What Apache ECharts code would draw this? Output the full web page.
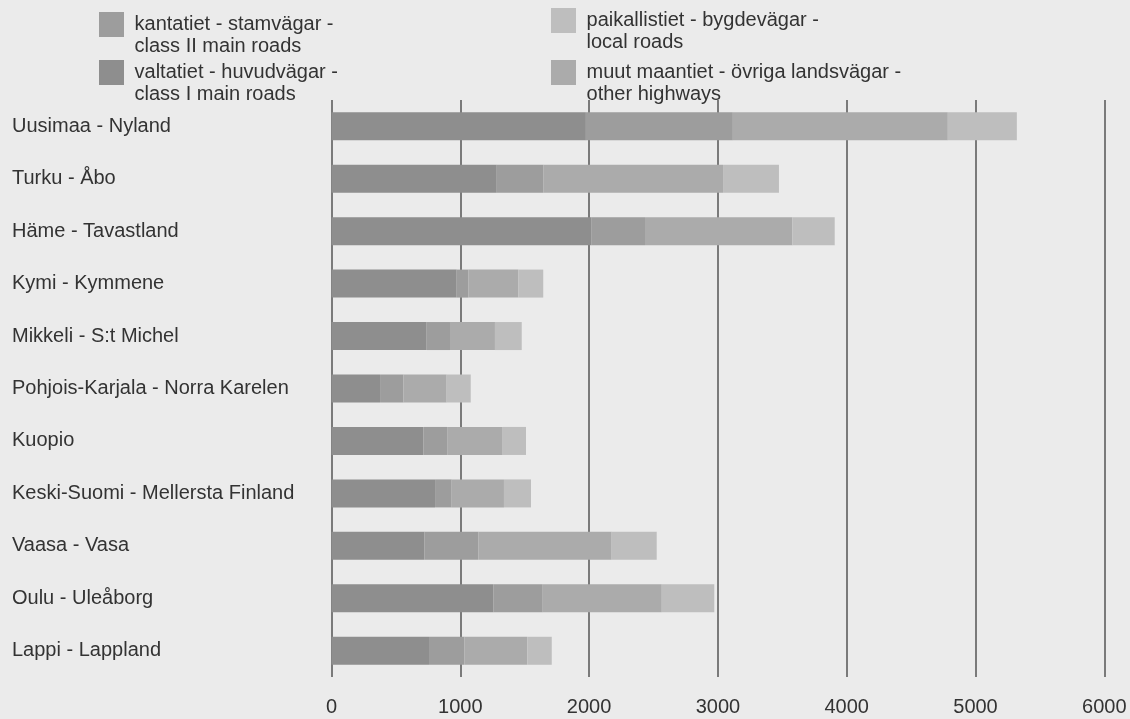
<!DOCTYPE html>
<html>
<head>
<meta charset="utf-8">
<script src="https://cdn.jsdelivr.net/npm/echarts@6/dist/echarts.min.js"></script>
<style>
html,body{margin:0;padding:0;background:#ebebeb;}
#main{width:1130px;height:719px;}
</style>
</head>
<body>
<div id="main"></div>
<script>
const categories = ['Uusimaa - Nyland','Turku - Åbo','Häme - Tavastland','Kymi - Kymmene','Mikkeli - S:t Michel','Pohjois-Karjala - Norra Karelen','Kuopio','Keski-Suomi - Mellersta Finland','Vaasa - Vasa','Oulu - Uleåborg','Lappi - Lappland'];
const valtatiet = [1975, 1283, 2020, 972, 739, 377, 713, 804, 721, 1256, 757];
const kantatiet = [1141, 361, 414, 90, 181, 181, 189, 129, 419, 384, 274];
const muutMaantiet = [1669, 1396, 1144, 388, 349, 336, 427, 406, 1035, 924, 489];
const paikallistiet = [536, 434, 329, 194, 208, 187, 181, 210, 350, 408, 190];
const xTicks = [0, 1000, 2000, 3000, 4000, 5000, 6000];

const names = {
  val: 'valtatiet - huvudvägar -\nclass I main roads',
  kan: 'kantatiet - stamvägar -\nclass II main roads',
  muu: 'muut maantiet - övriga landsvägar -\nother highways',
  pai: 'paikallistiet - bygdevägar -\nlocal roads'
};
const colors = {val:'#8e8e8e', kan:'#9d9d9d', muu:'#ababab', pai:'#bebebe'};
const FONT = 'Liberation Sans, Arial, sans-serif';
const FS = 20;

function legend(name, left, top) {
  return {
    data: [name], left: left, top: top, orient: 'vertical', padding: 0,
    icon: 'rect', itemWidth: 25, itemHeight: 25, itemGap: 8, selectedMode: false,
    formatter: function (n) { return '\n ' + n.split('\n').join('\n '); },
    textStyle: {fontFamily: FONT, fontSize: FS, lineHeight: 22, color: '#333'}
  };
}

const chart = echarts.init(document.getElementById('main'));
chart.setOption({
  backgroundColor: '#ebebeb',
  animation: false,
  legend: [
    legend(names.kan, 99, -8.5),
    legend(names.val, 99, 39.5),
    legend(names.pai, 551, -12.5),
    legend(names.muu, 551, 39.5)
  ],
  grid: {left: 331.5, right: 25.7, top: 100, bottom: 42, containLabel: false},
  xAxis: {
    type: 'value', min: xTicks[0], max: xTicks[xTicks.length - 1], interval: 1000,
    axisLine: {show: false}, axisTick: {show: false},
    axisLabel: {fontFamily: FONT, fontSize: FS, color: '#333', margin: 20,
      formatter: function (v) { return String(v); }},
    splitLine: {show: true, lineStyle: {color: '#555', width: 1.5}}
  },
  yAxis: {
    type: 'category', data: categories, inverse: true,
    axisLine: {show: false}, axisTick: {show: false},
    axisLabel: {fontFamily: FONT, fontSize: FS, color: '#333', align: 'left', margin: 319.5}
  },
  series: [
    {name: names.val, type: 'bar', stack: 's', data: valtatiet, barWidth: 28, itemStyle: {color: colors.val}},
    {name: names.kan, type: 'bar', stack: 's', data: kantatiet, barWidth: 28, itemStyle: {color: colors.kan}},
    {name: names.muu, type: 'bar', stack: 's', data: muutMaantiet, barWidth: 28, itemStyle: {color: colors.muu}},
    {name: names.pai, type: 'bar', stack: 's', data: paikallistiet, barWidth: 28, itemStyle: {color: colors.pai}}
  ]
});
</script>
</body>
</html>
